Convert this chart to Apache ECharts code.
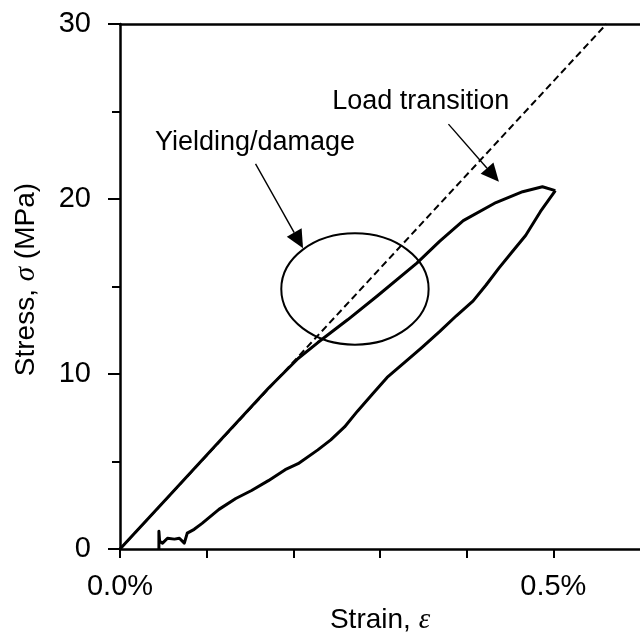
<!DOCTYPE html>
<html>
<head>
<meta charset="utf-8">
<script src="https://cdn.jsdelivr.net/npm/echarts@6/dist/echarts.min.js"></script>
<style>
  html, body { margin: 0; padding: 0; background: #fff; overflow: hidden; }
  #chart { width: 640px; height: 640px; }
</style>
</head>
<body>
<div id="chart"></div>
<script>
// Stress–strain response: [strain (%), stress (MPa)]
const loadingCurve = [
  [0, 0], [0.0571, 3.06], [0.1142, 6.13], [0.1712, 9.19], [0.2055, 10.89],
  [0.2283, 11.80], [0.2626, 13.10], [0.2968, 14.46], [0.3425, 16.34],
  [0.3687, 17.58], [0.3961, 18.77], [0.4338, 19.80], [0.4646, 20.42],
  [0.4874, 20.70], [0.5023, 20.48]
];
const unloadingCurve = [
  [0.5023, 20.48], [0.4852, 19.29], [0.4680, 17.92], [0.4521, 16.96],
  [0.4372, 16.05], [0.4224, 15.09], [0.4075, 14.18], [0.3881, 13.33],
  [0.3687, 12.42], [0.3482, 11.51], [0.3311, 10.78], [0.3082, 9.81],
  [0.2911, 8.85], [0.2740, 7.88], [0.2591, 6.98], [0.2432, 6.24],
  [0.2283, 5.67], [0.2055, 4.88], [0.1906, 4.54], [0.1712, 3.91],
  [0.1518, 3.35], [0.1336, 2.89], [0.1142, 2.27], [0.0947, 1.47],
  [0.0856, 1.13], [0.0776, 0.91], [0.0742, 0.34], [0.0685, 0.62],
  [0.0628, 0.57], [0.0548, 0.62], [0.0491, 0.34], [0.0457, 0.45],
  [0.0449, 1.02], [0.0449, 0]
];
// Linear-elastic reference line
const elasticLine = [[0, 0], [0.5613, 30]];

// Axis ticks
const xTickValues = [0, 0.1, 0.2, 0.3, 0.4, 0.5];
const xLabelValues = [0, 0.5];
const yLabelValues = [0, 10, 20, 30];

// Annotations (data coordinates)
const yieldZone = { center: [0.2711, 14.86], radius: [0.0850, 3.18] };
const notes = [
  { text: 'Yielding/damage', at: [0.1558, 23.2], from: [0.1564, 22.01], to: [0.2112, 17.19] },
  { text: 'Load transition', at: [0.3470, 25.58], from: [0.3790, 24.28], to: [0.4372, 20.99] }
];

const FONT = '"Liberation Sans", Arial, sans-serif';
const chart = echarts.init(document.getElementById('chart'));

chart.setOption({
  animation: false,
  backgroundColor: '#fff',
  grid: { left: 120, top: 24, width: 525.6, height: 529, containLabel: false },
  xAxis: [{
    type: 'value', min: 0, max: 0.6, interval: 0.1,
    name: '{a|Strain, }{g|ε}',
    nameLocation: 'middle', nameGap: 48,
    nameTextStyle: {
      rich: {
        a: { fontFamily: FONT, fontSize: 28, color: '#000' },
        g: { fontFamily: '"Liberation Serif", serif', fontStyle: 'italic', fontSize: 29, color: '#000' }
      }
    },
    axisLine: { lineStyle: { color: '#000', width: 2.5 } },
    axisTick: { show: true, inside: false, length: 9, customValues: xTickValues, lineStyle: { color: '#000', width: 2 } },
    splitLine: { show: false },
    axisLabel: {
      margin: 23, color: '#000', fontFamily: FONT, fontSize: 29,
      customValues: xLabelValues,
      formatter: v => v.toFixed(1) + '%'
    }
  }, {
    type: 'value', min: 0, max: 0.6, position: 'top',
    axisLine: { show: true, lineStyle: { color: '#000', width: 2.5 } },
    axisTick: { show: false }, axisLabel: { show: false }, splitLine: { show: false }
  }],
  yAxis: {
    type: 'value', min: 0, max: 30, interval: 10,
    name: '{a|Stress, }{g|σ}{a| (MPa)}',
    nameLocation: 'middle', nameGap: 79,
    nameTextStyle: {
      padding: [0, 0, 0, 14],
      rich: {
        a: { fontFamily: FONT, fontSize: 28, color: '#000' },
        g: { fontFamily: '"Liberation Serif", serif', fontStyle: 'italic', fontSize: 29, color: '#000' }
      }
    },
    axisLine: { show: true, lineStyle: { color: '#000', width: 2.5 } },
    axisTick: { show: true, inside: false, length: 12, lineStyle: { color: '#000', width: 2 } },
    minorTick: { show: true, splitNumber: 2, length: 8, lineStyle: { color: '#000', width: 2 } },
    splitLine: { show: false },
    axisLabel: {
      margin: 29, color: '#000', fontFamily: FONT, fontSize: 29,
      formatter: v => yLabelValues.indexOf(v) >= 0 ? String(v) : ''
    }
  },
  series: [{
    type: 'line', data: elasticLine, showSymbol: false, silent: true,
    lineStyle: { color: '#000', width: 2, type: [7, 4] }
  }, {
    type: 'line', data: loadingCurve, showSymbol: false, silent: true,
    lineStyle: { color: '#000', width: 3, join: 'round' }
  }, {
    type: 'line', data: unloadingCurve, showSymbol: false, silent: true,
    lineStyle: { color: '#000', width: 3, join: 'round' }
  }]
});

// Annotation layer: ellipse, callout arrows and their text
function px(p) { return chart.convertToPixel({ gridIndex: 0 }, p); }
const graphics = [];
const c = px(yieldZone.center);
const edge = px([yieldZone.center[0] + yieldZone.radius[0], yieldZone.center[1] + yieldZone.radius[1]]);
graphics.push({
  type: 'ellipse', silent: true,
  shape: { cx: c[0], cy: c[1], rx: Math.abs(edge[0] - c[0]), ry: Math.abs(edge[1] - c[1]) },
  style: { fill: 'none', stroke: '#000', lineWidth: 2 }
});
notes.forEach(n => {
  const a = px(n.from), b = px(n.to);
  const dx = b[0] - a[0], dy = b[1] - a[1];
  const len = Math.hypot(dx, dy), ux = dx / len, uy = dy / len;
  const headLen = 18, headHalf = 8.5;
  const bx = b[0] - ux * headLen, by = b[1] - uy * headLen;
  graphics.push({
    type: 'line', silent: true,
    shape: { x1: a[0], y1: a[1], x2: bx, y2: by },
    style: { stroke: '#000', lineWidth: 1.4 }
  });
  graphics.push({
    type: 'polygon', silent: true,
    shape: { points: [[b[0], b[1]], [bx - uy * headHalf, by + ux * headHalf], [bx + uy * headHalf, by - ux * headHalf]] },
    style: { fill: '#000' }
  });
  const t = px(n.at);
  graphics.push({
    type: 'text', silent: true,
    style: { text: n.text, x: t[0], y: t[1], align: 'center', verticalAlign: 'middle', font: '27px ' + FONT, fill: '#000' }
  });
});
chart.setOption({ graphic: graphics });
</script>
</body>
</html>
